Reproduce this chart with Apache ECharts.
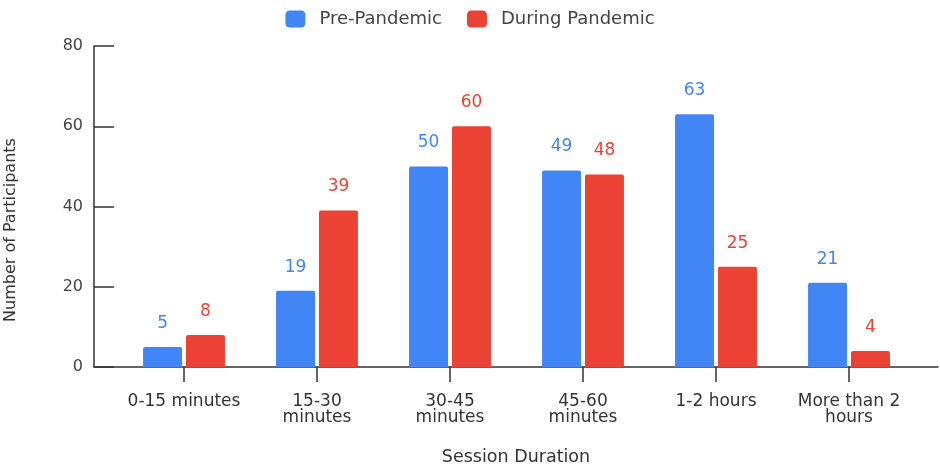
<!DOCTYPE html>
<html><head><meta charset="utf-8">
<script src="https://cdn.jsdelivr.net/npm/echarts@6/dist/echarts.min.js"></script>
<style>html,body{margin:0;padding:0;background:#fff}#c{width:940px;height:468px}</style>
</head><body><div id="c"></div>
<script>
const categories = ['0-15 minutes', '15-30\nminutes', '30-45\nminutes', '45-60\nminutes', '1-2 hours', 'More than 2\nhours'];
const prePandemic = [5, 19, 50, 49, 63, 21];
const duringPandemic = [8, 39, 60, 48, 25, 4];
const yTicks = {min: 0, max: 80, interval: 20};

const FONT = '"DejaVu Sans", sans-serif';
const BLUE = '#4285F4', RED = '#EA4335';
const AX = {color: '#333', width: 1.5};
const chart = echarts.init(document.getElementById('c'));
const lbl = (c) => ({show: true, position: 'top', distance: 15, color: c, fontSize: 17, fontFamily: FONT});
chart.setOption({
  animation: false,
  textStyle: {fontFamily: FONT},
  legend: {
    top: 5, left: 'center', itemWidth: 20, itemHeight: 17, itemGap: 25,
    textStyle: {fontSize: 18, color: '#444', fontFamily: FONT, padding: [0, 0, 0, 9]},
    data: ['Pre-Pandemic', 'During Pandemic']
  },
  grid: [
    {left: 117.5, right: 24.5, top: 46, bottom: 101, containLabel: false, outerBoundsMode: 'none'},
    {left: 94, right: 2, top: 46, bottom: 101, containLabel: false, outerBoundsMode: 'none'},
    {left: 94, right: 2, top: 93, bottom: 101, containLabel: false, outerBoundsMode: 'none'}
  ],
  xAxis: [
    {type: 'category', gridIndex: 0, data: categories,
     axisLine: {show: false},
     axisTick: {show: true, alignWithLabel: true, length: 15, lineStyle: AX},
     axisLabel: {fontSize: 17, color: '#333', margin: 27, lineHeight: 16, fontFamily: FONT, interval: 0}},
    {type: 'value', gridIndex: 1, min: 0, max: 1,
     axisLine: {show: true, onZero: false, lineStyle: AX},
     axisTick: {show: false}, axisLabel: {show: false}, splitLine: {show: false},
     name: 'Session Duration', nameLocation: 'middle', nameGap: 81,
     nameTextStyle: {fontSize: 17.5, color: '#333', fontFamily: FONT}},
    {type: 'value', gridIndex: 2, min: 0, max: 1, show: false}
  ],
  yAxis: [
    {type: 'value', gridIndex: 0, min: yTicks.min, max: yTicks.max, interval: yTicks.interval,
     offset: 23.5,
     axisLine: {show: true, lineStyle: AX},
     axisTick: {show: true, inside: true, length: 20, lineStyle: AX},
     axisLabel: {fontSize: 16, color: '#444', margin: 11, fontFamily: FONT},
     splitLine: {show: false}},
    {type: 'value', gridIndex: 1, show: false, min: 0, max: 1},
    {type: 'value', gridIndex: 2, min: 0, max: 1,
     axisLine: {show: false}, axisTick: {show: false}, axisLabel: {show: false}, splitLine: {show: false},
     name: 'Number of Participants', nameLocation: 'middle', nameGap: 75, nameRotate: 90,
     nameTextStyle: {fontSize: 16, color: '#333', fontFamily: FONT}}
  ],
  series: [
    {name: 'Pre-Pandemic', type: 'bar', xAxisIndex: 0, yAxisIndex: 0, data: prePandemic,
     barWidth: 39, barGap: '10%', itemStyle: {color: BLUE, borderRadius: [2, 2, 0, 0]}, label: lbl(BLUE)},
    {name: 'During Pandemic', type: 'bar', xAxisIndex: 0, yAxisIndex: 0, data: duringPandemic,
     barWidth: 39, barGap: '10%', itemStyle: {color: RED, borderRadius: [2, 2, 0, 0]}, label: lbl(RED)}
  ]
});
</script></body></html>
